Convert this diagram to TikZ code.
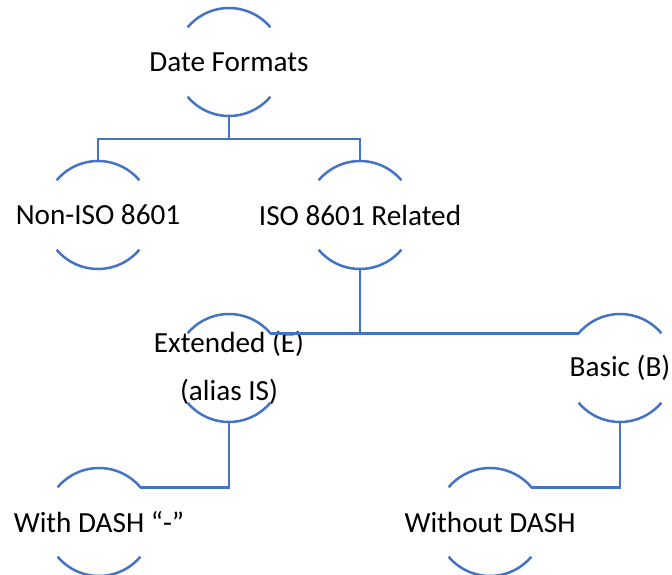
\documentclass[tikz,border=0pt]{standalone}
\usepackage{fontspec}
\setmainfont{Carlito}
\definecolor{lineblue}{HTML}{4472C4}
\tikzset{
  hnode/.style={circle, minimum size=108pt, inner sep=0pt, outer sep=0pt,
    label={[labeltext]center:#1}},
  labeltext/.style={font=\fontsize{29.2}{48}\selectfont, text=black, align=center, inner sep=0pt},
  arcline/.style={draw=lineblue, line width=2.5pt},
  conn/.style={draw=lineblue, line width=2.5pt}
}
\newcommand{\twoarcs}[1]{%
  \draw[arcline] (#1.40) arc[start angle=40, end angle=140, radius=54pt];
  \draw[arcline] (#1.220) arc[start angle=220, end angle=320, radius=54pt];
}
\begin{document}
\begin{tikzpicture}[x=1pt, y=1pt]
\useasboundingbox (0,0) rectangle (672,-575);
\node[hnode={Date Formats}] (root) at (229,-62) {};
\node[hnode={Non-ISO 8601}] (noniso) at (98,-215) {};
\node[hnode={ISO 8601 Related}] (iso) at (360,-215) {};
\node[hnode={Extended (E)\\(alias IS)}] (ext) at (229,-368) {};
\node[hnode={Basic (B)}] (basic) at (620,-368) {};
\node[hnode={With DASH “-”}] (withd) at (99,-522) {};
\node[hnode={Without DASH}] (without) at (490,-522) {};
\foreach \n in {root,noniso,iso,ext,basic,withd,without}{\twoarcs{\n}}
\coordinate (j1) at (229,-139);
\draw[conn] (root.south) -- (j1);
\draw[conn] (j1) -| (noniso.north);
\draw[conn] (j1) -| (iso.north);
\draw[conn] (iso.south) |- (ext.40);
\draw[conn] (iso.south) |- (basic.140);
\draw[conn] (ext.south) |- (withd.40);
\draw[conn] (basic.south) |- (without.40);
\end{tikzpicture}
\end{document}
